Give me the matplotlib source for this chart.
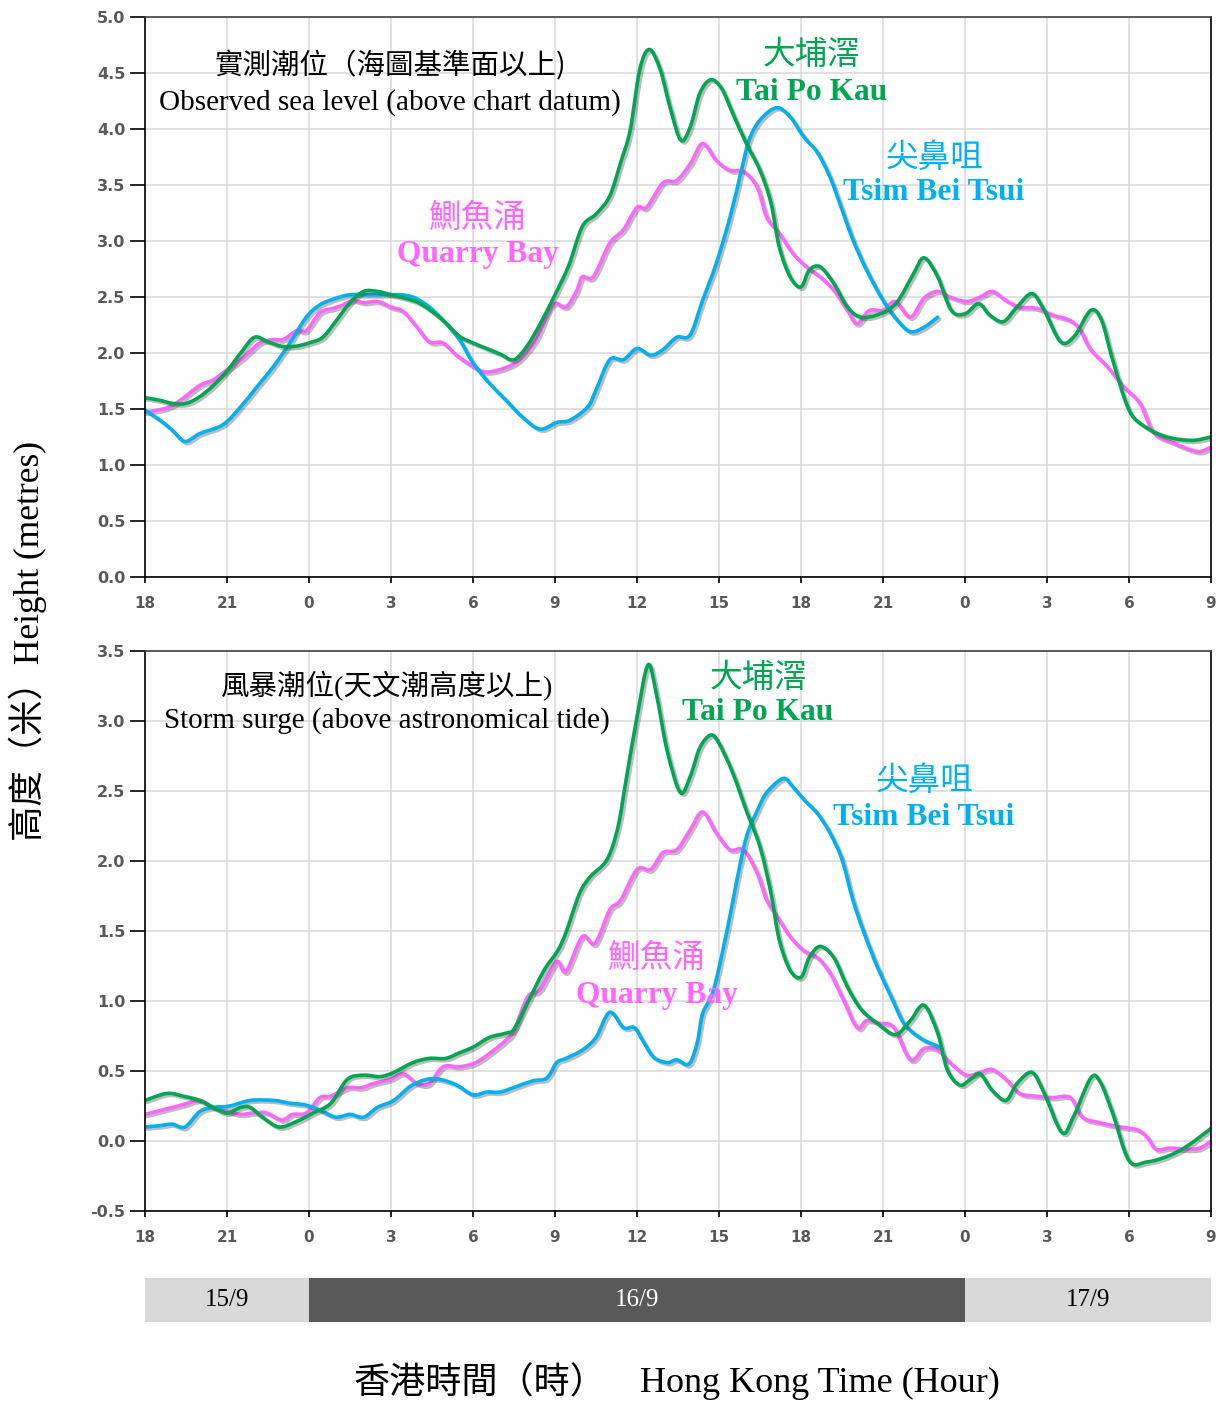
import matplotlib
matplotlib.use("Agg")
import matplotlib.pyplot as plt
import matplotlib.patheffects as pe
from matplotlib.path import Path
from matplotlib.patches import PathPatch

# Time axis: hours counted from 18:00 on 15/9
tick_hours = [0, 3, 6, 9, 12, 15, 18, 21, 24, 27, 30, 33, 36, 39]
tick_labels = ["18", "21", "0", "3", "6", "9", "12", "15", "18", "21", "0", "3", "6", "9"]

day_labels = ["15/9", "16/9", "17/9"]
day_start = [0, 6, 30]
day_end = [6, 30, 39]

# ---- observed sea level (above chart datum), metres ----
tpk_obs_t = [0, 0.5, 1, 1.5, 2, 2.5, 3, 3.5, 4, 4.5, 5, 5.5, 6, 6.5, 7, 7.5, 8, 8.5, 9, 9.5,
             10, 10.5, 11, 11.5, 12, 12.5, 13, 13.5, 14, 14.5, 15, 15.5, 16, 16.5, 17, 17.4,
             17.75, 18.1, 18.45, 18.85, 19.2, 19.6, 19.95, 20.3, 20.7, 21.1, 21.5, 22, 22.5,
             22.9, 23.2, 23.6, 24, 24.3, 24.7, 25.2, 25.7, 26.2, 26.9, 27.5, 28.1, 28.5, 29,
             29.5, 30, 30.5, 30.9, 31.4, 31.9, 32.45, 32.9, 33.5, 34, 34.6, 35, 35.4, 36,
             36.6, 37.4, 38.3, 39]
tpk_obs_v = [1.60, 1.58, 1.55, 1.55, 1.61, 1.71, 1.84, 2.00, 2.14, 2.10, 2.06, 2.06, 2.09, 2.14,
             2.29, 2.45, 2.55, 2.55, 2.52, 2.49, 2.45, 2.37, 2.27, 2.15, 2.09, 2.04, 1.99, 1.94,
             2.07, 2.28, 2.52, 2.78, 3.13, 3.24, 3.40, 3.70, 3.99, 4.53, 4.71, 4.53, 4.20, 3.90,
             4.02, 4.32, 4.44, 4.36, 4.14, 3.87, 3.63, 3.34, 2.95, 2.68, 2.59, 2.74, 2.77, 2.62,
             2.41, 2.32, 2.35, 2.45, 2.70, 2.85, 2.68, 2.38, 2.35, 2.44, 2.34, 2.28, 2.41, 2.53,
             2.38, 2.10, 2.15, 2.38, 2.29, 1.94, 1.49, 1.34, 1.25, 1.22, 1.25]

qb_obs_t = [0, 0.8, 1.3, 2, 2.5, 3, 3.6, 4.2, 4.7, 5.05, 5.55, 5.9, 6.4, 6.9, 7.25, 7.6, 8, 8.5,
            9, 9.45, 9.95, 10.4, 10.9, 11.4, 12, 12.5, 13.2, 13.7, 14.3, 14.9, 15.4, 15.8, 16,
            16.4, 17, 17.5, 18, 18.35, 18.95, 19.45, 19.95, 20.4, 20.9, 21.4, 21.9, 22.4, 22.75,
            23.2, 23.7, 24.2, 24.7, 25.2, 25.7, 26.05, 26.5, 27, 27.45, 28, 28.5, 29, 29.45,
            30.05, 30.55, 31, 31.5, 32, 32.6, 33.2, 33.85, 34.2, 34.6, 35.2, 35.8, 36.4, 36.9,
            37.6, 38.5, 39]
qb_obs_v = [1.47, 1.51, 1.58, 1.71, 1.76, 1.85, 1.96, 2.09, 2.12, 2.12, 2.20, 2.20, 2.36, 2.40,
            2.43, 2.47, 2.45, 2.46, 2.41, 2.37, 2.23, 2.10, 2.09, 1.98, 1.88, 1.83, 1.87, 1.94,
            2.12, 2.43, 2.41, 2.56, 2.68, 2.68, 2.98, 3.10, 3.30, 3.30, 3.52, 3.54, 3.69, 3.87,
            3.72, 3.63, 3.62, 3.48, 3.21, 3.07, 2.89, 2.77, 2.68, 2.56, 2.38, 2.26, 2.38, 2.38,
            2.46, 2.32, 2.49, 2.55, 2.50, 2.46, 2.50, 2.55, 2.47, 2.41, 2.40, 2.34, 2.29, 2.21,
            2.03, 1.88, 1.70, 1.55, 1.29, 1.20, 1.12, 1.16]

tbt_obs_t = [0, 0.55, 1, 1.46, 2, 2.85, 3.5, 4.1, 4.7, 5.3, 5.9, 6.4, 7, 7.5, 8.1, 8.6, 9.3, 9.8,
             10.3, 10.8, 11.5, 12, 12.6, 13.2, 13.8, 14.45, 15.06, 15.55, 16.2, 16.5, 17, 17.5,
             18, 18.5, 18.95, 19.45, 19.94, 20.4, 20.9, 21.4, 21.8, 22.1, 22.5, 23.1, 23.6, 24.1,
             24.6, 25.06, 25.5, 25.9, 26.4, 27, 27.5, 28, 28.5, 29]
tbt_obs_v = [1.49, 1.40, 1.31, 1.21, 1.28, 1.36, 1.52, 1.70, 1.88, 2.09, 2.32, 2.43, 2.49, 2.52,
             2.52, 2.52, 2.52, 2.50, 2.43, 2.32, 2.12, 1.91, 1.73, 1.58, 1.43, 1.32, 1.38, 1.40,
             1.52, 1.67, 1.94, 1.94, 2.04, 1.98, 2.03, 2.14, 2.16, 2.47, 2.80, 3.21, 3.61, 3.90,
             4.08, 4.19, 4.11, 3.93, 3.79, 3.57, 3.28, 3.01, 2.74, 2.47, 2.30, 2.19, 2.23, 2.32]

# ---- storm surge (above astronomical tide), metres ----
tpk_surge_t = [0, 0.8, 1.4, 2, 2.5, 3, 3.5, 3.85, 4.3, 4.9, 5.55, 6.15, 6.8, 7.4, 8, 8.6, 9.1,
               9.8, 10.4, 11, 11.5, 12, 12.6, 13.2, 13.5, 14, 14.6, 15.1, 15.4, 15.9, 16.3, 16.9,
               17.3, 17.6, 18, 18.4, 18.7, 19.1, 19.58, 19.94, 20.3, 20.7, 21, 21.5, 22, 22.5,
               22.9, 23.2, 23.6, 24, 24.3, 24.7, 25.2, 25.7, 26.2, 26.8, 27.45, 28, 28.5, 29,
               29.35, 29.8, 30.2, 30.55, 31, 31.5, 31.9, 32.45, 32.9, 33.55, 33.96, 34.6, 34.95,
               35.4, 36, 36.65, 37.4, 38.1, 39]
tpk_surge_v = [0.29, 0.34, 0.32, 0.29, 0.24, 0.20, 0.24, 0.24, 0.17, 0.10, 0.14, 0.20, 0.27,
               0.44, 0.47, 0.46, 0.49, 0.56, 0.59, 0.59, 0.63, 0.67, 0.74, 0.77, 0.80, 0.99,
               1.22, 1.36, 1.49, 1.77, 1.89, 2.01, 2.24, 2.58, 3.03, 3.40, 3.20, 2.79, 2.49,
               2.60, 2.81, 2.90, 2.84, 2.63, 2.36, 2.10, 1.77, 1.44, 1.22, 1.17, 1.31, 1.39,
               1.31, 1.10, 0.94, 0.84, 0.76, 0.86, 0.97, 0.77, 0.51, 0.40, 0.44, 0.48, 0.36,
               0.29, 0.41, 0.49, 0.34, 0.06, 0.17, 0.45, 0.42, 0.20, -0.14, -0.15, -0.11,
               -0.04, 0.09]

qb_surge_t = [0, 0.8, 1.4, 2, 2.5, 3, 3.5, 3.95, 4.45, 5, 5.4, 5.9, 6.4, 6.8, 7.4, 7.9, 8.35,
              8.96, 9.45, 9.95, 10.4, 10.9, 11.5, 12.1, 12.7, 13.2, 13.5, 14, 14.45, 15.06,
              15.4, 16, 16.46, 17, 17.4, 18, 18.5, 18.95, 19.45, 19.94, 20.4, 20.9, 21.4, 21.9,
              22.4, 22.75, 23.2, 23.6, 24.1, 24.6, 25.06, 25.5, 26.05, 26.4, 26.9, 27.4, 28,
              28.5, 29, 29.45, 30.05, 30.55, 31, 31.5, 32, 32.6, 33.2, 33.85, 34.3, 34.95,
              35.7, 36.3, 36.65, 37, 37.5, 38.1, 38.6, 39]
qb_surge_v = [0.19, 0.23, 0.26, 0.29, 0.24, 0.21, 0.19, 0.20, 0.20, 0.15, 0.19, 0.20, 0.31,
              0.32, 0.38, 0.38, 0.41, 0.44, 0.48, 0.41, 0.41, 0.53, 0.53, 0.56, 0.64, 0.72,
              0.79, 1.03, 1.08, 1.28, 1.21, 1.46, 1.41, 1.65, 1.72, 1.94, 1.94, 2.06, 2.08,
              2.22, 2.35, 2.20, 2.08, 2.08, 1.91, 1.72, 1.58, 1.46, 1.36, 1.31, 1.20, 1.03,
              0.81, 0.86, 0.84, 0.81, 0.58, 0.66, 0.65, 0.56, 0.47, 0.49, 0.51, 0.44, 0.34,
              0.32, 0.31, 0.31, 0.17, 0.13, 0.10, 0.08, 0.03, -0.06, -0.05, -0.06, -0.05, 0.00]

tbt_surge_t = [0, 0.55, 1, 1.46, 2, 2.5, 3.1, 3.85, 4.7, 5.3, 5.8, 6.15, 6.5, 7, 7.5, 8, 8.5,
               9.1, 9.7, 10.3, 10.8, 11.4, 12, 12.5, 13, 13.6, 14.2, 14.7, 15.06, 15.4, 16,
               16.5, 17, 17.5, 17.9, 18.2, 18.6, 19.1, 19.45, 19.9, 20.2, 20.4, 20.8, 21.3,
               21.65, 22, 22.4, 22.75, 23.35, 23.7, 24.1, 24.6, 25.06, 25.5, 25.9, 26.3, 26.8,
               27.3, 27.7, 28, 28.5, 29.1]
tbt_surge_v = [0.10, 0.11, 0.12, 0.10, 0.21, 0.24, 0.25, 0.29, 0.29, 0.27, 0.26, 0.24, 0.21,
               0.17, 0.19, 0.17, 0.24, 0.29, 0.39, 0.44, 0.44, 0.40, 0.33, 0.35, 0.35, 0.39,
               0.43, 0.45, 0.56, 0.59, 0.65, 0.74, 0.92, 0.81, 0.81, 0.72, 0.60, 0.56, 0.58,
               0.55, 0.70, 0.91, 1.08, 1.51, 1.86, 2.17, 2.36, 2.49, 2.59, 2.53, 2.44, 2.34,
               2.20, 2.01, 1.72, 1.49, 1.24, 1.03, 0.86, 0.79, 0.72, 0.67]

GREEN = "#00A651"
BLUE = "#00B0F0"
PINK = "#FF66FF"
SERIF = ["Liberation Serif", "Noto Sans CJK TC"]
CJK = ["Noto Sans CJK TC", "DejaVu Sans"]

shadow = [pe.SimpleLineShadow(offset=(1.5, -1.5), shadow_color="0.25", alpha=0.35), pe.Normal()]


def smooth_path(t, v):
    """Cubic Bezier path through every reading (spreadsheet-style smoothed line)."""
    pts = list(zip(t, v))
    n = len(pts)
    verts = [pts[0]]
    codes = [Path.MOVETO]
    for i in range(n - 1):
        p0 = pts[max(i - 1, 0)]
        p1 = pts[i]
        p2 = pts[i + 1]
        p3 = pts[min(i + 2, n - 1)]
        c1 = (p1[0] + (p2[0] - p0[0]) / 6, p1[1] + (p2[1] - p0[1]) / 6)
        c2 = (p2[0] - (p3[0] - p1[0]) / 6, p2[1] - (p3[1] - p1[1]) / 6)
        verts += [c1, c2, p2]
        codes += [Path.CURVE4] * 3
    return Path(verts, codes)


def style_axes(ax, ymin, ymax):
    ax.set_xlim(0, 39)
    ax.set_ylim(ymin, ymax)
    ax.set_xticks(tick_hours)
    ax.set_xticklabels(tick_labels)
    ax.set_yticks([round(ymin + 0.5 * i, 1) for i in range(int((ymax - ymin) / 0.5) + 1)])
    ax.yaxis.set_major_formatter(plt.FormatStrFormatter("%.1f"))
    ax.grid(True, color="#D9D9D9", linewidth=1.1)
    ax.set_axisbelow(True)
    for side in ax.spines.values():
        side.set_color("black")
        side.set_linewidth(1.2)
    ax.spines["top"].set_color("#404040")
    ax.tick_params(axis="y", direction="out", length=11, width=1.2, pad=3,
                   labelsize=11.5, labelcolor="#595959")
    ax.tick_params(axis="x", direction="out", length=4, width=1.2, pad=10,
                   labelsize=11, labelcolor="#595959")
    for lab in ax.get_yticklabels() + ax.get_xticklabels():
        lab.set_fontweight("bold")


def draw_series(ax, series):
    for t, v, color in series:
        patch = PathPatch(smooth_path(t, v), fill=False, edgecolor=color, linewidth=2.6,
                          capstyle="round", joinstyle="round", path_effects=shadow)
        ax.add_patch(patch)


def station_label(ax, x, y_cn, y_en, cn, en, color):
    ax.text(x, y_cn, cn, color=color, fontsize=23.5, family=CJK, ha="center", va="center")
    ax.text(x, y_en, en, color=color, fontsize=22.7, family=SERIF, fontweight="bold",
            ha="center", va="center")


fig = plt.figure(figsize=(12.23, 14.02), dpi=100)
ax_top = fig.add_axes([0.1186, 0.58845, 0.8716, 0.39943])
ax_bot = fig.add_axes([0.1186, 0.13623, 0.8716, 0.39943])
ax_day = fig.add_axes([0.1169, 0.05706, 0.8733, 0.03138])

# observed sea level
draw_series(ax_top, [(qb_obs_t, qb_obs_v, PINK), (tbt_obs_t, tbt_obs_v, BLUE),
                     (tpk_obs_t, tpk_obs_v, GREEN)])
style_axes(ax_top, 0.0, 5.0)
ax_top.text(8.96, 4.56, "實測潮位（海圖基準面以上)", fontsize=20.5, family=CJK,
            ha="center", va="center")
ax_top.text(8.96, 4.24, "Observed sea level (above chart datum)", fontsize=21,
            family=SERIF, ha="center", va="center")
station_label(ax_top, 24.4, 4.66, 4.33, "大埔滘", "Tai Po Kau", GREEN)
station_label(ax_top, 28.87, 3.74, 3.43, "尖鼻咀", "Tsim Bei Tsui", BLUE)
station_label(ax_top, 12.18, 3.21, 2.88, "鰂魚涌", "Quarry Bay", PINK)

# storm surge
draw_series(ax_bot, [(qb_surge_t, qb_surge_v, PINK), (tbt_surge_t, tbt_surge_v, BLUE),
                     (tpk_surge_t, tpk_surge_v, GREEN)])
style_axes(ax_bot, -0.5, 3.5)
ax_bot.text(8.85, 3.25, "風暴潮位(天文潮高度以上)", fontsize=20.5, family=SERIF,
            ha="center", va="center")
ax_bot.text(8.85, 3.0, "Storm surge (above astronomical tide)", fontsize=21,
            family=SERIF, ha="center", va="center")
station_label(ax_bot, 22.43, 3.31, 3.06, "大埔滘", "Tai Po Kau", GREEN)
station_label(ax_bot, 28.5, 2.57, 2.31, "尖鼻咀", "Tsim Bei Tsui", BLUE)
station_label(ax_bot, 18.73, 1.31, 1.04, "鰂魚涌", "Quarry Bay", PINK)

# date strip
day_colors = ["#D9D9D9", "#595959", "#D9D9D9"]
day_text = ["black", "white", "black"]
for lab, s, e, fc, tc in zip(day_labels, day_start, day_end, day_colors, day_text):
    ax_day.barh(0, e - s, left=s, height=1, color=fc, edgecolor="none")
    ax_day.text((s + e) / 2, 0, lab, color=tc, fontsize=18, family=SERIF,
                ha="center", va="center")
ax_day.set_xlim(-0.07, 39)
ax_day.set_ylim(-0.5, 0.5)
ax_day.axis("off")

fig.text(0.023, 0.543, "高度（米）Height (metres)", rotation=90, fontsize=25.5,
         family=SERIF, ha="center", va="center")
fig.text(0.289, 0.013, "香港時間（時）", fontsize=26, family=CJK,
         ha="left", va="center")
fig.text(0.5233, 0.013, "Hong Kong Time (Hour)", fontsize=26, family=SERIF,
         ha="left", va="center")

fig.savefig("out.png", dpi=100)
